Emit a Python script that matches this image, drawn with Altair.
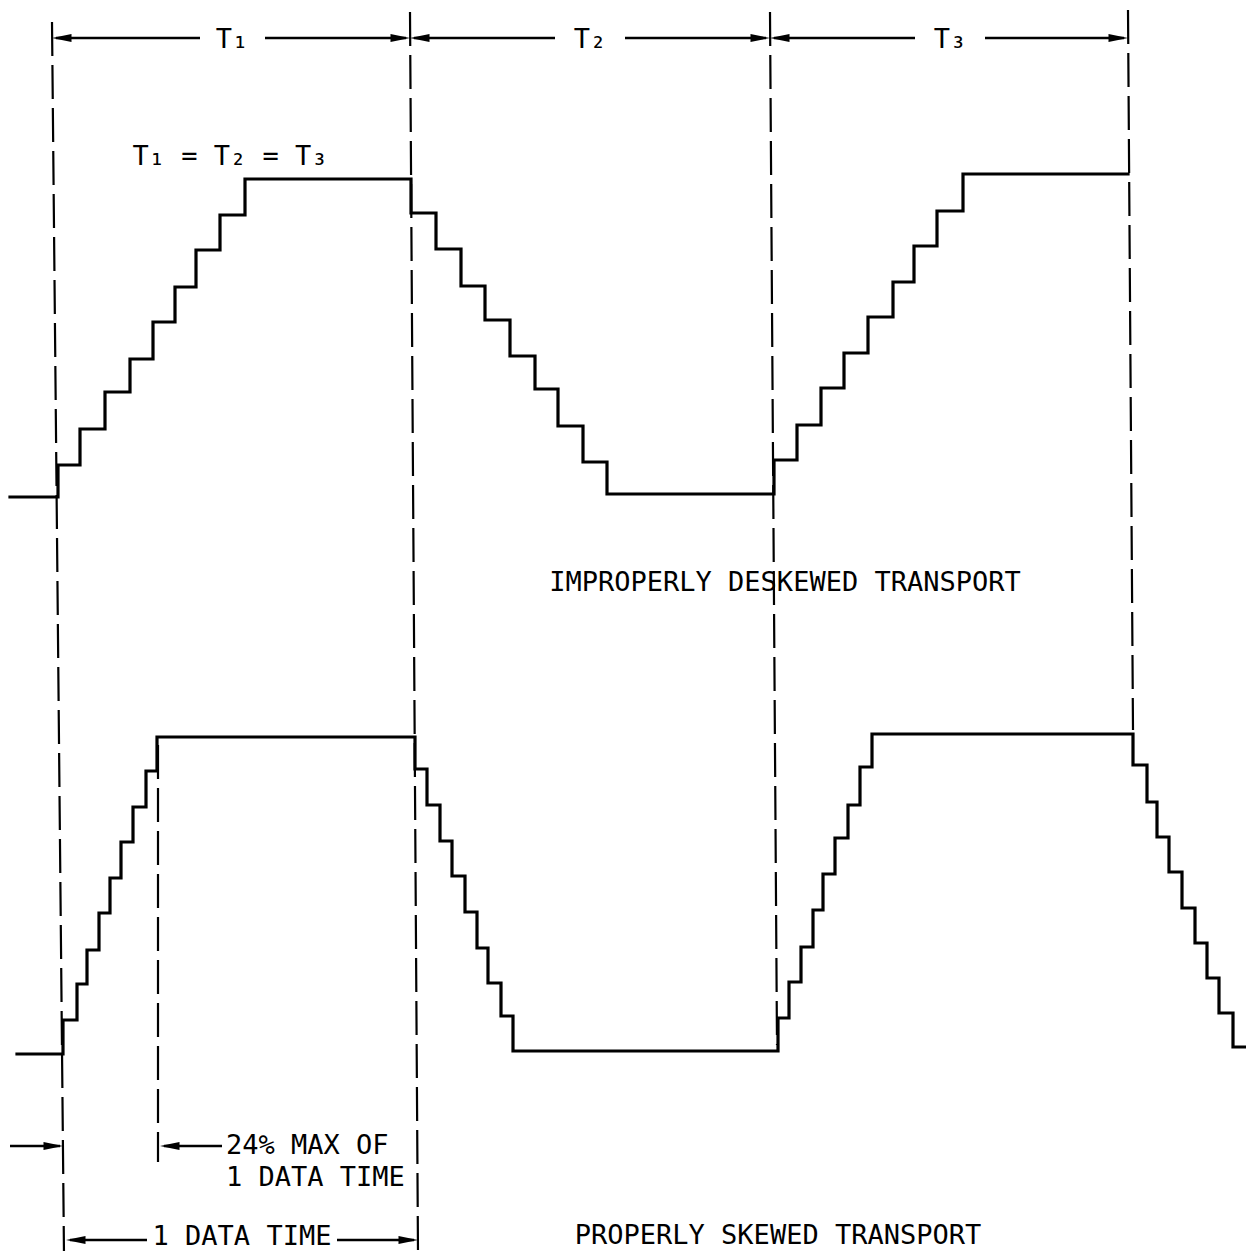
import altair as alt
import pandas as pd

# ---------------- data (image pixel coordinates) -------------
# Upper waveform: improperly deskewed transport
top_start_x = 10
top_end_x = 1128
top_edges = [58, 80, 105, 130, 153, 175, 196, 220, 245, 411,
             436, 461, 485, 510, 535, 558, 583, 607, 774,
             797, 821, 844, 868, 893, 914, 937, 963]
top_levels = [497, 465, 429, 392, 359, 322, 287, 250, 215, 179,
              213, 249, 286, 320, 356, 389, 426, 462, 494,
              460, 425, 388, 353, 317, 282, 246, 211, 174]

# Lower waveform: properly skewed transport
bot_start_x = 17
bot_end_x = 1250
bot_edges = [63, 77, 87, 99, 110, 121, 133, 146, 157, 415,
             427, 440, 452, 465, 477, 488, 501, 513, 778,
             789, 801, 813, 823, 835, 848, 860, 872, 1133,
             1147, 1157, 1169, 1182, 1195, 1207, 1219, 1233]
bot_levels = [1054, 1020, 984, 950, 913, 878, 842, 807, 771, 737,
              769, 805, 841, 876, 912, 948, 983, 1016, 1051,
              1018, 982, 947, 910, 874, 838, 805, 767, 734,
              765, 802, 837, 872, 908, 943, 978, 1013, 1047]

# Dashed guide lines (x_top, y_top, x_bottom, y_bottom)
dash_x1 = [52, 410, 770, 1128, 158]
dash_y1 = [22, 12, 12, 10, 745]
dash_x2 = [64, 418, 777, 1133, 158]
dash_y2 = [1255, 1254, 1045, 730, 1162]

# Arrow shafts (x1, x2, y)
shaft_x1 = [56, 265, 414, 625, 774, 985, 10, 164, 70, 337]
shaft_x2 = [200, 406, 555, 766, 915, 1124, 60, 222, 147, 414]
shaft_y = [38, 38, 38, 38, 38, 38, 1146, 1146, 1240, 1240]

# Arrow tips
left_tip_x = [52, 410, 770, 160, 66]
left_tip_y = [38, 38, 38, 1146, 1240]
right_tip_x = [410, 770, 1128, 63, 418]
right_tip_y = [38, 38, 38, 1146, 1240]

# Labels
center_text = ["T₁", "T₂", "T₃", "T₁ = T₂ = T₃", "IMPROPERLY DESKEWED TRANSPORT",
               "1 DATA TIME", "PROPERLY SKEWED TRANSPORT"]
center_x = [232, 590, 950, 230, 785, 242, 778]
center_y = [40, 40, 40, 157, 583, 1237, 1236]
left_text = ["24% MAX OF", "1 DATA TIME"]
left_x = [226, 226]
left_y = [1146, 1178]


def step_path(x0, edges, levels, x_end, name):
    pts = [(x0, levels[0])]
    for i, e in enumerate(edges):
        pts.append((e, levels[i]))
        pts.append((e, levels[i + 1]))
    pts.append((x_end, levels[-1]))
    return pd.DataFrame({"x": [p[0] for p in pts], "y": [p[1] for p in pts],
                         "order": list(range(len(pts))), "series": name})


wave_df = pd.concat([
    step_path(top_start_x, top_edges, top_levels, top_end_x, "improper"),
    step_path(bot_start_x, bot_edges, bot_levels, bot_end_x, "proper"),
])
dash_df = pd.DataFrame({"x": dash_x1, "y": dash_y1, "x2": dash_x2, "y2": dash_y2})
shaft_df = pd.DataFrame({"x": shaft_x1, "x2": shaft_x2, "y": shaft_y})
ltip_df = pd.DataFrame({"x": left_tip_x, "y": left_tip_y})
rtip_df = pd.DataFrame({"x": right_tip_x, "y": right_tip_y})
ctext_df = pd.DataFrame({"x": center_x, "y": center_y, "t": center_text})
ltext_df = pd.DataFrame({"x": left_x, "y": left_y, "t": left_text})

X = alt.X("x:Q", scale=alt.Scale(domain=[8, 1246], nice=False, zero=False), axis=None)
Y = alt.Y("y:Q", scale=alt.Scale(domain=[8, 1251], nice=False, zero=False, reverse=True), axis=None)

waves = alt.Chart(wave_df).mark_line(color="black", strokeWidth=3.2, strokeJoin="miter",
                                     strokeCap="square", clip=False).encode(
    x=X, y=Y, detail="series:N", order="order:Q")

dashes = alt.Chart(dash_df).mark_rule(color="black", strokeWidth=2.2,
                                      strokeDash=[34, 9]).encode(
    x=X, y=Y, x2="x2:Q", y2="y2:Q")

shafts = alt.Chart(shaft_df).mark_rule(color="black", strokeWidth=2.6).encode(
    x=X, x2="x2:Q", y=Y)

ltips = alt.Chart(ltip_df).mark_point(shape="M 0 0 L 2 -0.4 L 2 0.4 Z", filled=True,
                                      color="black", opacity=1, size=380).encode(x=X, y=Y)
rtips = alt.Chart(rtip_df).mark_point(shape="M 0 0 L -2 -0.4 L -2 0.4 Z", filled=True,
                                      color="black", opacity=1, size=380).encode(x=X, y=Y)

ctext = alt.Chart(ctext_df).mark_text(font="DejaVu Sans Mono", fontSize=27, align="center",
                                      baseline="middle", color="black").encode(
    x=X, y=Y, text="t:N")
ltext = alt.Chart(ltext_df).mark_text(font="DejaVu Sans Mono", fontSize=27, align="left",
                                      baseline="middle", color="black").encode(
    x=X, y=Y, text="t:N")

chart = alt.layer(dashes, waves, shafts, ltips, rtips, ctext, ltext).properties(
    width=1238, height=1243, padding=0, autosize=alt.AutoSizeParams(type="none"),
    background="white",
).configure_view(stroke=None)

chart.save("out.html", embed_options={"renderer": "svg", "actions": False})
